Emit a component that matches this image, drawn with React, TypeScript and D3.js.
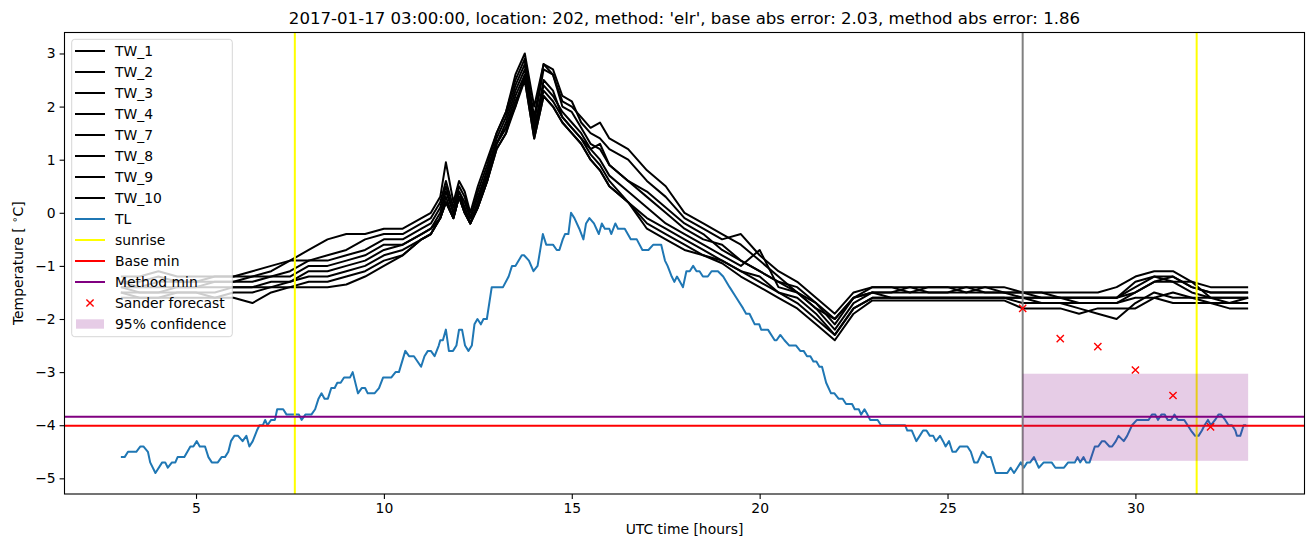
import React, { useRef, useEffect } from 'react'
import * as d3 from 'd3'

const title = "2017-01-17 03:00:00, location: 202, method: 'elr', base abs error: 2.03, method abs error: 1.86"

// observed road temperature TL, [hour, value]
const tlSeries: [number, number][] = [
  [3.0,-4.6],[3.1,-4.6],[3.19,-4.5],[3.41,-4.5],[3.52,-4.4],[3.6,-4.4],[3.72,-4.5],[3.78,-4.7],[3.92,-4.9],[4.1,-4.7],
  [4.18,-4.7],[4.25,-4.8],[4.36,-4.7],[4.45,-4.7],[4.51,-4.6],[4.69,-4.6],[4.85,-4.4],[4.93,-4.4],[5.02,-4.3],[5.1,-4.4],
  [5.24,-4.4],[5.33,-4.6],[5.42,-4.7],[5.58,-4.7],[5.68,-4.6],[5.77,-4.6],[5.86,-4.5],[5.93,-4.3],[6.02,-4.2],[6.12,-4.2],
  [6.24,-4.3],[6.34,-4.2],[6.42,-4.4],[6.51,-4.3],[6.62,-4.1],[6.69,-4.0],[6.78,-4.0],[6.84,-3.9],[6.9,-4.0],[7.0,-3.9],
  [7.1,-3.9],[7.16,-3.7],[7.32,-3.7],[7.41,-3.8],[7.61,-3.8],[7.74,-3.8],[7.81,-3.9],[7.91,-3.8],[8.07,-3.8],[8.17,-3.7],
  [8.26,-3.5],[8.34,-3.4],[8.42,-3.5],[8.51,-3.5],[8.6,-3.3],[8.69,-3.3],[8.76,-3.2],[8.85,-3.2],[8.94,-3.1],[9.1,-3.1],
  [9.17,-3.0],[9.31,-3.4],[9.41,-3.3],[9.5,-3.3],[9.57,-3.4],[9.75,-3.4],[9.87,-3.3],[9.98,-3.1],[10.2,-3.1],[10.31,-3.0],
  [10.4,-3.0],[10.57,-2.6],[10.67,-2.7],[10.8,-2.7],[10.99,-2.9],[11.08,-2.7],[11.17,-2.6],[11.25,-2.6],[11.35,-2.7],[11.46,-2.5],
  [11.5,-2.4],[11.57,-2.4],[11.65,-2.2],[11.73,-2.6],[11.84,-2.6],[11.93,-2.5],[12.0,-2.2],[12.08,-2.2],[12.16,-2.5],[12.25,-2.6],
  [12.34,-2.5],[12.41,-2.1],[12.49,-2.0],[12.58,-2.1],[12.65,-2.0],[12.74,-2.0],[12.87,-1.4],[12.94,-1.4],[13.17,-1.4],[13.32,-1.2],
  [13.41,-1.0],[13.5,-1.0],[13.67,-0.8],[13.73,-0.8],[13.86,-0.9],[13.98,-1.1],[14.09,-1.0],[14.23,-0.4],[14.32,-0.6],[14.5,-0.6],
  [14.6,-0.7],[14.67,-0.7],[14.76,-0.5],[14.82,-0.4],[14.91,-0.4],[14.98,0.0],[15.07,-0.1],[15.2,-0.3],[15.31,-0.5],[15.38,-0.2],
  [15.47,-0.1],[15.59,-0.2],[15.72,-0.4],[15.8,-0.2],[15.88,-0.3],[16.0,-0.3],[16.05,-0.4],[16.16,-0.2],[16.23,-0.3],[16.41,-0.3],
  [16.57,-0.5],[16.73,-0.5],[16.88,-0.7],[17.04,-0.7],[17.17,-0.6],[17.38,-0.6],[17.48,-0.9],[17.55,-1.0],[17.66,-1.2],[17.73,-1.3],
  [17.8,-1.2],[17.88,-1.3],[17.96,-1.4],[18.05,-1.1],[18.14,-1.1],[18.23,-1.0],[18.32,-1.1],[18.4,-1.1],[18.49,-1.2],[18.62,-1.2],
  [18.72,-1.1],[18.89,-1.1],[19.03,-1.2],[19.2,-1.4],[19.38,-1.6],[19.56,-1.8],[19.64,-1.9],[19.73,-1.9],[19.87,-2.1],[19.99,-2.1],
  [20.04,-2.2],[20.22,-2.2],[20.4,-2.4],[20.45,-2.4],[20.55,-2.3],[20.66,-2.4],[20.79,-2.5],[20.97,-2.5],[21.08,-2.6],[21.17,-2.6],
  [21.26,-2.7],[21.35,-2.7],[21.43,-2.8],[21.51,-2.8],[21.59,-2.9],[21.66,-2.9],[21.77,-3.2],[21.9,-3.4],[21.99,-3.4],[22.1,-3.5],
  [22.21,-3.5],[22.3,-3.6],[22.46,-3.6],[22.53,-3.7],[22.64,-3.7],[22.7,-3.8],[22.79,-3.7],[22.87,-3.8],[22.94,-3.9],[23.14,-3.9],
  [23.23,-4.0],[23.87,-4.0],[23.93,-4.1],[24.05,-4.1],[24.17,-4.3],[24.26,-4.2],[24.35,-4.1],[24.44,-4.1],[24.53,-4.2],[24.62,-4.2],
  [24.69,-4.3],[24.8,-4.2],[24.88,-4.3],[24.95,-4.4],[25.04,-4.3],[25.13,-4.5],[25.22,-4.5],[25.33,-4.4],[25.53,-4.4],[25.62,-4.5],
  [25.71,-4.7],[25.8,-4.7],[25.93,-4.5],[26.06,-4.6],[26.15,-4.6],[26.28,-4.9],[26.59,-4.9],[26.68,-4.8],[26.77,-4.9],[26.86,-4.8],
  [26.95,-4.7],[27.03,-4.8],[27.12,-4.7],[27.2,-4.7],[27.3,-4.6],[27.43,-4.8],[27.56,-4.7],[27.77,-4.7],[27.87,-4.8],[28.1,-4.8],
  [28.21,-4.7],[28.39,-4.7],[28.46,-4.6],[28.53,-4.7],[28.62,-4.6],[28.69,-4.7],[28.78,-4.7],[28.92,-4.4],[29.01,-4.4],[29.11,-4.3],
  [29.18,-4.3],[29.31,-4.4],[29.38,-4.4],[29.48,-4.3],[29.55,-4.2],[29.69,-4.3],[29.78,-4.2],[29.91,-4.0],[30.04,-3.9],[30.35,-3.9],
  [30.44,-3.8],[30.53,-3.8],[30.6,-3.9],[30.69,-3.8],[30.78,-3.8],[30.86,-3.9],[30.95,-3.9],[31.04,-3.8],[31.13,-3.9],[31.3,-3.9],
  [31.39,-4.0],[31.48,-4.1],[31.59,-4.2],[31.68,-4.2],[31.77,-4.1],[31.84,-4.0],[31.93,-3.9],[32.01,-4.0],[32.12,-3.9],[32.21,-3.8],
  [32.28,-3.8],[32.39,-3.9],[32.48,-4.0],[32.57,-4.0],[32.66,-4.1],[32.7,-4.2],[32.79,-4.2],[32.88,-4.0],[32.95,-4.0]
]

// hours shared by the TW stations
const twTimes = [3,3.5,4,4.5,5,5.5,6,6.5,7,7.5,8,8.5,9,9.5,10,10.5,11,11.25,11.5,11.65,11.85,12.0,12.15,12.3,12.5,12.75,
  13,13.25,13.5,13.75,14,14.25,14.5,14.75,15,15.25,15.5,15.75,16,16.5,17,17.5,18,18.5,19,19.5,20,20.5,21,21.5,22,22.5,
  23,23.5,24,24.5,25,25.5,26,26.5,27,27.5,28,28.5,29,29.5,30,30.5,31,31.5,32,32.5,33]

const tw1 = [-1.2,-1.2,-1.1,-1.2,-1.2,-1.2,-1.2,-1.1,-1.0,-0.9,-0.7,-0.5,-0.4,-0.4,-0.3,-0.3,-0.1,0.0,0.3,0.95,0.2,0.6,0.4,0.0,0.5,1.0,
  1.5,1.9,2.6,3.0,2.0,2.8,2.6,2.1,2.0,1.8,1.6,1.7,1.4,1.2,0.8,0.5,0.0,-0.2,-0.4,-0.6,-0.9,-1.2,-1.5,-1.8,-2.0,-1.6,
  -1.4,-1.4,-1.4,-1.4,-1.4,-1.4,-1.4,-1.4,-1.5,-1.5,-1.5,-1.5,-1.5,-1.4,-1.2,-1.1,-1.1,-1.3,-1.4,-1.4,-1.4]
const tw2 = [-1.3,-1.3,-1.2,-1.3,-1.3,-1.2,-1.2,-1.2,-1.1,-0.9,-0.9,-0.8,-0.7,-0.5,-0.4,-0.4,-0.2,-0.1,0.2,0.6,0.1,0.5,0.3,-0.1,0.4,0.9,
  1.5,1.9,2.5,2.9,1.8,2.8,2.7,2.2,2.1,1.7,1.5,1.4,1.2,1.0,0.6,0.3,-0.1,-0.3,-0.5,-0.4,-0.8,-1.1,-1.3,-1.6,-1.9,-1.5,
  -1.4,-1.4,-1.5,-1.4,-1.4,-1.5,-1.4,-1.5,-1.5,-1.6,-1.6,-1.6,-1.6,-1.6,-1.3,-1.2,-1.2,-1.4,-1.5,-1.5,-1.5]
const tw3 = [-1.3,-1.4,-1.3,-1.3,-1.3,-1.3,-1.3,-1.2,-1.2,-1.1,-0.9,-0.9,-0.8,-0.7,-0.5,-0.5,-0.3,-0.2,0.1,0.5,0.0,0.4,0.2,-0.1,0.3,0.8,
  1.4,1.8,2.4,2.8,1.7,2.7,2.6,2.0,1.9,1.6,1.3,1.2,0.9,0.6,0.3,0.0,-0.3,-0.5,-0.6,-0.9,-1.1,-1.3,-1.4,-1.7,-2.1,-1.6,
  -1.5,-1.5,-1.5,-1.5,-1.5,-1.5,-1.5,-1.5,-1.5,-1.5,-1.6,-1.7,-1.7,-1.7,-1.5,-1.3,-1.3,-1.3,-1.6,-1.6,-1.6]
const tw4 = [-1.4,-1.4,-1.4,-1.4,-1.4,-1.3,-1.3,-1.3,-1.2,-1.2,-1.0,-1.0,-0.9,-0.8,-0.6,-0.6,-0.4,-0.3,0.0,0.4,0.0,0.4,0.1,-0.2,0.2,0.8,
  1.3,1.7,2.3,2.7,1.6,2.4,2.2,1.9,1.7,1.5,1.2,1.0,0.7,0.4,0.1,-0.2,-0.4,-0.6,-0.8,-1.0,-0.7,-1.4,-1.5,-1.8,-2.2,-1.7,
  -1.5,-1.6,-1.6,-1.6,-1.6,-1.6,-1.6,-1.6,-1.6,-1.7,-1.7,-1.8,-1.9,-2.0,-1.7,-1.5,-1.6,-1.6,-1.7,-1.7,-1.7]
const tw7 = [-1.4,-1.5,-1.5,-1.4,-1.4,-1.4,-1.4,-1.4,-1.3,-1.3,-1.1,-1.1,-1.0,-0.9,-0.7,-0.6,-0.4,-0.3,-0.1,0.3,-0.1,0.3,0.1,-0.2,0.2,0.7,
  1.3,1.6,2.2,2.6,1.5,2.3,2.1,1.8,1.6,1.4,1.1,0.9,0.6,0.2,-0.1,-0.3,-0.5,-0.7,-0.9,-1.1,-1.2,-1.5,-1.6,-1.9,-2.3,-1.8,
  -1.6,-1.6,-1.6,-1.6,-1.6,-1.6,-1.6,-1.6,-1.7,-1.7,-1.7,-1.7,-1.7,-1.7,-1.6,-1.6,-1.5,-1.6,-1.6,-1.7,-1.6]
const tw8 = [-1.5,-1.5,-1.5,-1.5,-1.5,-1.5,-1.4,-1.4,-1.4,-1.3,-1.2,-1.2,-1.1,-1.0,-0.8,-0.7,-0.5,-0.4,-0.1,0.2,-0.1,0.3,0.0,-0.2,0.1,0.6,
  1.2,1.5,2.1,2.5,1.4,2.2,2.0,1.7,1.5,1.3,1.0,0.8,0.5,0.2,-0.2,-0.4,-0.6,-0.8,-0.9,-1.1,-1.3,-1.5,-1.7,-2.0,-2.3,-1.8,
  -1.6,-1.6,-1.6,-1.6,-1.6,-1.6,-1.6,-1.6,-1.6,-1.6,-1.6,-1.6,-1.6,-1.6,-1.5,-1.3,-1.2,-1.4,-1.5,-1.5,-1.5]
const tw9 = [-1.5,-1.6,-1.6,-1.5,-1.5,-1.6,-1.5,-1.5,-1.4,-1.4,-1.3,-1.3,-1.2,-1.1,-0.9,-0.8,-0.5,-0.4,-0.1,0.2,-0.1,0.3,0.0,-0.2,0.1,0.6,
  1.3,1.6,2.0,2.6,1.5,2.5,2.3,1.8,1.6,1.4,1.2,1.3,0.9,0.6,0.4,0.1,-0.2,-0.4,-0.7,-0.9,-1.1,-1.3,-1.5,-1.7,-2.0,-1.6,
  -1.5,-1.5,-1.4,-1.5,-1.5,-1.4,-1.5,-1.5,-1.6,-1.6,-1.6,-1.6,-1.6,-1.6,-1.4,-1.2,-1.3,-1.5,-1.6,-1.6,-1.6]
const tw10 = [-1.6,-1.6,-1.6,-1.6,-1.6,-1.6,-1.6,-1.7,-1.5,-1.4,-1.4,-1.4,-1.35,-1.2,-1.0,-0.8,-0.5,-0.4,-0.1,0.2,-0.1,0.3,0.0,-0.2,0.1,0.6,
  1.2,1.5,2.0,2.5,1.4,2.2,2.0,1.7,1.5,1.3,1.0,0.8,0.5,0.2,-0.3,-0.5,-0.7,-0.8,-0.95,-1.2,-1.4,-1.6,-1.8,-2.1,-2.4,-1.9,
  -1.65,-1.65,-1.65,-1.65,-1.65,-1.65,-1.65,-1.65,-1.8,-1.8,-1.8,-1.9,-1.8,-1.8,-1.8,-1.6,-1.7,-1.7,-1.7,-1.8,-1.8]

const twNames = ['TW_1', 'TW_2', 'TW_3', 'TW_4', 'TW_7', 'TW_8', 'TW_9', 'TW_10']
const twValues = [tw1, tw2, tw3, tw4, tw7, tw8, tw9, tw10]

const sunrise = [7.63, 31.63]
const forecastStart = 27
const baseMin = -4.01
const methodMin = -3.84
const sanderHours = [27, 28, 29, 30, 31, 32]
const sanderValues = [-1.80, -2.37, -2.52, -2.96, -3.44, -4.03]
const confHours = [27, 33]
const confLow = -4.67
const confHigh = -3.03

const xTicks = [5, 10, 15, 20, 25, 30]
const yTicks = [-5, -4, -3, -2, -1, 0, 1, 2, 3]

const legendItems = [
  ...twNames.map(n => ({label: n, kind: 'line', color: 'black'})),
  {label: 'TL', kind: 'line', color: '#1f77b4'},
  {label: 'sunrise', kind: 'line', color: 'yellow'},
  {label: 'Base min', kind: 'line', color: 'red'},
  {label: 'Method min', kind: 'line', color: 'purple'},
  {label: 'Sander forecast', kind: 'marker', color: 'red'},
  {label: '95% confidence', kind: 'patch', color: 'rgba(128,0,128,0.2)'},
]

export default function App() {
  const ref = useRef<SVGSVGElement>(null)
  const W = 1313, H = 547
  const m = {left: 64.5, right: 1304.5, top: 32.5, bottom: 494}
  const lw = 2

  useEffect(() => {
    const svg = d3.select(ref.current)
    svg.selectAll('*').remove()

    const x = d3.scaleLinear().domain([1.5, 34.5]).range([m.left, m.right])
    const y = d3.scaleLinear().domain([-5.295, 3.395]).range([m.bottom, m.top])

    svg.append('rect').attr('width', W).attr('height', H).attr('fill', 'white')

    svg.append('clipPath').attr('id', 'plot-clip')
      .append('rect')
      .attr('x', m.left).attr('y', m.top)
      .attr('width', m.right - m.left).attr('height', m.bottom - m.top)

    const g = svg.append('g').attr('clip-path', 'url(#plot-clip)')

    const line = d3.line<[number, number]>().x(d => x(d[0])).y(d => y(d[1]))

    // TW stations
    twValues.forEach(vals => {
      const pts = twTimes.map((t, i) => [t, vals[i]] as [number, number])
      g.append('path').attr('d', line(pts))
        .attr('fill', 'none').attr('stroke', 'black').attr('stroke-width', lw)
        .attr('stroke-linejoin', 'round')
    })

    g.append('path').attr('d', line(tlSeries))
      .attr('fill', 'none').attr('stroke', '#1f77b4').attr('stroke-width', lw)
      .attr('stroke-linejoin', 'round')

    g.selectAll('.sunrise').data(sunrise).join('line')
      .attr('class', 'sunrise')
      .attr('x1', d => x(d)).attr('x2', d => x(d))
      .attr('y1', m.top).attr('y2', m.bottom)
      .attr('stroke', 'yellow').attr('stroke-width', lw)

    g.append('line').attr('x1', m.left).attr('x2', m.right)
      .attr('y1', y(baseMin)).attr('y2', y(baseMin))
      .attr('stroke', 'red').attr('stroke-width', lw)
    g.append('line').attr('x1', m.left).attr('x2', m.right)
      .attr('y1', y(methodMin)).attr('y2', y(methodMin))
      .attr('stroke', 'purple').attr('stroke-width', lw)

    g.append('line').attr('x1', x(forecastStart)).attr('x2', x(forecastStart))
      .attr('y1', m.top).attr('y2', m.bottom)
      .attr('stroke', 'gray').attr('stroke-width', lw)

    g.append('rect')
      .attr('x', x(confHours[0])).attr('width', x(confHours[1]) - x(confHours[0]))
      .attr('y', y(confHigh)).attr('height', y(confLow) - y(confHigh))
      .attr('fill', 'purple').attr('fill-opacity', 0.2)

    const cross = 'M-3.6,-3.6L3.6,3.6M-3.6,3.6L3.6,-3.6'
    g.selectAll('.sander').data(sanderHours).join('path')
      .attr('class', 'sander')
      .attr('transform', (d, i) => `translate(${x(d)},${y(sanderValues[i])})`)
      .attr('d', cross).attr('stroke', 'red').attr('stroke-width', 1.4).attr('fill', 'none')

    // axes
    const xAxis = svg.append('g').attr('transform', `translate(0,${m.bottom})`)
      .call(d3.axisBottom(x).tickValues(xTicks).tickSize(4.9).tickPadding(4).tickFormat(d3.format('d')))
    const yAxis = svg.append('g').attr('transform', `translate(${m.left},0)`)
      .call(d3.axisLeft(y).tickValues(yTicks).tickSize(4.9).tickPadding(4).tickFormat(d3.format('d')))
    ;[xAxis, yAxis].forEach(a => {
      a.select('.domain').remove()
      a.selectAll('text').attr('font-family', 'DejaVu Sans').attr('font-size', 13.9).attr('fill', 'black')
      a.selectAll('line').attr('stroke', 'black').attr('stroke-width', 1.1)
    })

    svg.append('rect')
      .attr('x', m.left).attr('y', m.top)
      .attr('width', m.right - m.left).attr('height', m.bottom - m.top)
      .attr('fill', 'none').attr('stroke', 'black').attr('stroke-width', 1.1)

    svg.append('text').text(title)
      .attr('x', (m.left + m.right) / 2).attr('y', 24)
      .attr('text-anchor', 'middle').attr('font-size', 16.6)

    svg.append('text').text('UTC time [hours]')
      .attr('x', (m.left + m.right) / 2).attr('y', 534)
      .attr('text-anchor', 'middle').attr('font-size', 13.9)

    const yl = svg.append('text')
      .attr('transform', `translate(23,${(m.top + m.bottom) / 2}) rotate(-90)`)
      .attr('text-anchor', 'middle').attr('font-size', 13.9)
    yl.append('tspan').text('Temperature [ ')
    yl.append('tspan').text('∘').attr('font-size', 10).attr('dy', -5)
    yl.append('tspan').text('C]').attr('dy', 5)

    // legend
    const lg = svg.append('g').attr('transform', 'translate(71.7,39.3)')
    lg.append('rect').attr('width', 160.6).attr('height', 297.4).attr('rx', 3)
      .attr('fill', 'white').attr('fill-opacity', 0.8)
      .attr('stroke', '#cccccc').attr('stroke-opacity', 0.8).attr('stroke-width', 1)
    legendItems.forEach((item, i) => {
      const cy = 11.7 + i * 21.0
      if (item.kind === 'line') {
        lg.append('line').attr('x1', 3.3).attr('x2', 33.3).attr('y1', cy).attr('y2', cy)
          .attr('stroke', item.color).attr('stroke-width', lw)
      } else if (item.kind === 'marker') {
        lg.append('path').attr('transform', `translate(18.3,${cy})`).attr('d', cross)
          .attr('stroke', item.color).attr('stroke-width', 1.4).attr('fill', 'none')
      } else {
        lg.append('rect').attr('x', 4.3).attr('y', cy - 4.7).attr('width', 28).attr('height', 9.4)
          .attr('fill', item.color)
      }
      lg.append('text').text(item.label).attr('x', 43.3).attr('y', cy)
        .attr('dy', '0.38em').attr('font-size', 13.9)
    })
  }, [])

  return (
    <svg ref={ref} width={W} height={H}
      style={{position: 'absolute', left: 0, top: 0, fontFamily: 'DejaVu Sans'}} />
  )
}
